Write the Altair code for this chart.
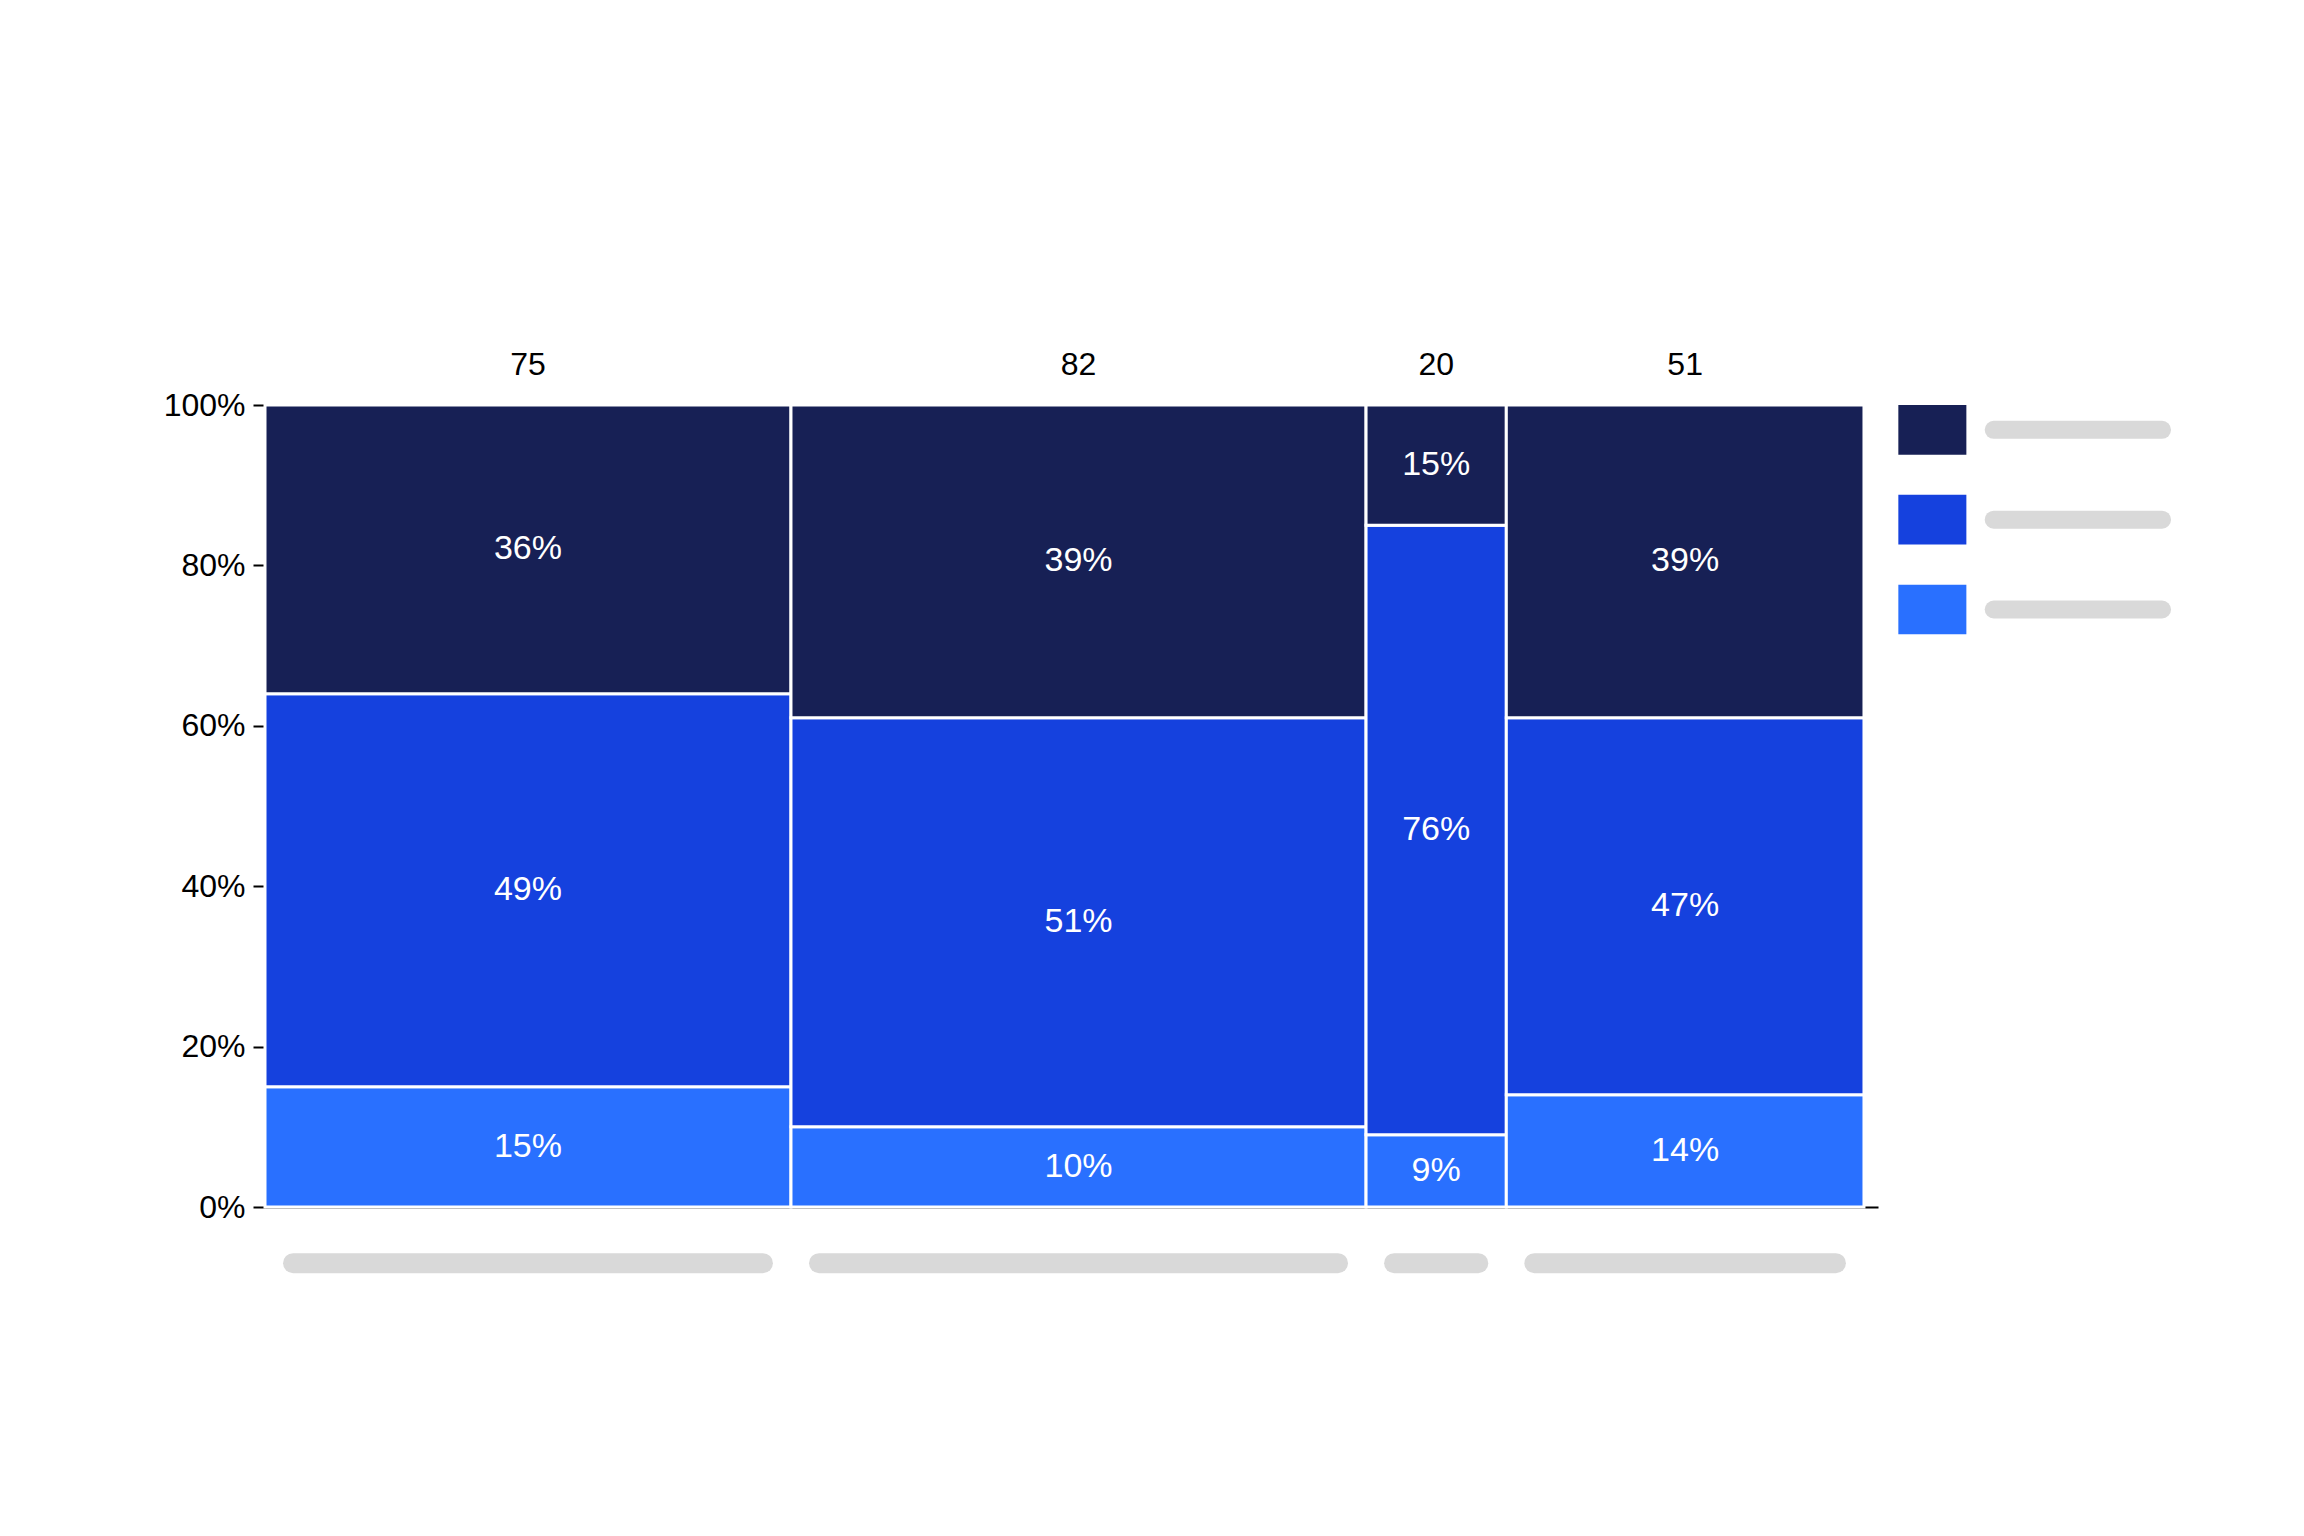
import altair as alt
import pandas as pd

groups = ["A", "B", "C", "D"]
totals = [75, 82, 20, 51]
series = ["top", "middle", "bottom"]
shares = {
    "bottom": [15, 10, 9, 14],
    "middle": [49, 51, 76, 47],
    "top": [36, 39, 15, 39],
}
colors = {"top": "#172055", "middle": "#1541DE", "bottom": "#2970FF"}
order = ["bottom", "middle", "top"]

rows = []
x0 = 0
for i, g in enumerate(groups):
    x1 = x0 + totals[i]
    y0 = 0
    for s in order:
        v = shares[s][i]
        rows.append(dict(group=g, series=s, x=x0, x2=x1, y=y0 / 100, y2=(y0 + v) / 100,
                         xm=(x0 + x1) / 2, ym=(y0 + v / 2) / 100, label=f"{v}%"))
        y0 += v
    x0 = x1
df = pd.DataFrame(rows)

tot = pd.DataFrame({"group": groups, "total": totals})
tot["xm"] = df.groupby("group")["xm"].first().values
tot["xa"] = df.groupby("group")["x"].first().values + 4
tot["xb"] = df.groupby("group")["x2"].first().values - 4
tot["yt"] = 1.05
tot["yb"] = -0.07

leg = pd.DataFrame({"series": series, "y": [0.969, 0.857, 0.745]})
leg["x"], leg["x2"] = 232.9, 242.6
leg["y0"], leg["y1"] = leg["y"] - 0.031, leg["y"] + 0.031
leg["la"], leg["lb"] = 246.5, 270.5

font = "Liberation Sans"
xs = alt.Scale(domain=[0, 230], nice=False, zero=True)
ys = alt.Scale(domain=[0, 1], nice=False)
col = alt.Scale(domain=list(colors), range=list(colors.values()))

rects = alt.Chart(df).mark_rect(stroke="white", strokeWidth=3, clip=False).encode(
    x=alt.X("x:Q", scale=xs, axis=alt.Axis(domainColor="black", domainWidth=2, ticks=False,
                                           labels=False, grid=False, title=None)),
    x2="x2:Q",
    y=alt.Y("y:Q", scale=ys, axis=alt.Axis(format="%", values=[0, .2, .4, .6, .8, 1], grid=False,
                                           domain=False, tickColor="black", tickSize=12, tickWidth=2,
                                           labelFontSize=32, labelFont=font, labelColor="black",
                                           labelPadding=8, title=None)),
    y2="y2:Q",
    color=alt.Color("series:N", scale=col, legend=None),
)
labels = alt.Chart(df).mark_text(color="white", fontSize=34, font=font, clip=False).encode(
    x=alt.X("xm:Q", scale=xs), y=alt.Y("ym:Q", scale=ys), text="label:N")
top = alt.Chart(tot).mark_text(color="black", fontSize=32, font=font, clip=False).encode(
    x=alt.X("xm:Q", scale=xs), y=alt.Y("yt:Q", scale=ys), text="total:Q")
under = alt.Chart(tot).mark_rule(color="#d9d9d9", strokeWidth=20, strokeCap="round", clip=False).encode(
    x=alt.X("xa:Q", scale=xs), x2="xb:Q", y=alt.Y("yb:Q", scale=ys))
lsq = alt.Chart(leg).mark_rect(clip=False).encode(
    x=alt.X("x:Q", scale=xs), x2="x2:Q", y=alt.Y("y0:Q", scale=ys), y2="y1:Q",
    color=alt.Color("series:N", scale=col, legend=None))
lln = alt.Chart(leg).mark_rule(color="#d9d9d9", strokeWidth=18, strokeCap="round", clip=False).encode(
    x=alt.X("la:Q", scale=xs), x2="lb:Q", y=alt.Y("y:Q", scale=ys))

chart = alt.layer(rects, labels, top, under, lsq, lln).properties(
    width=1613, height=802,
    padding={"left": 155, "top": 340, "right": 20, "bottom": 20},
).configure_view(stroke=None)

chart.save("out.html", embed_options={"renderer": "svg", "actions": False})
